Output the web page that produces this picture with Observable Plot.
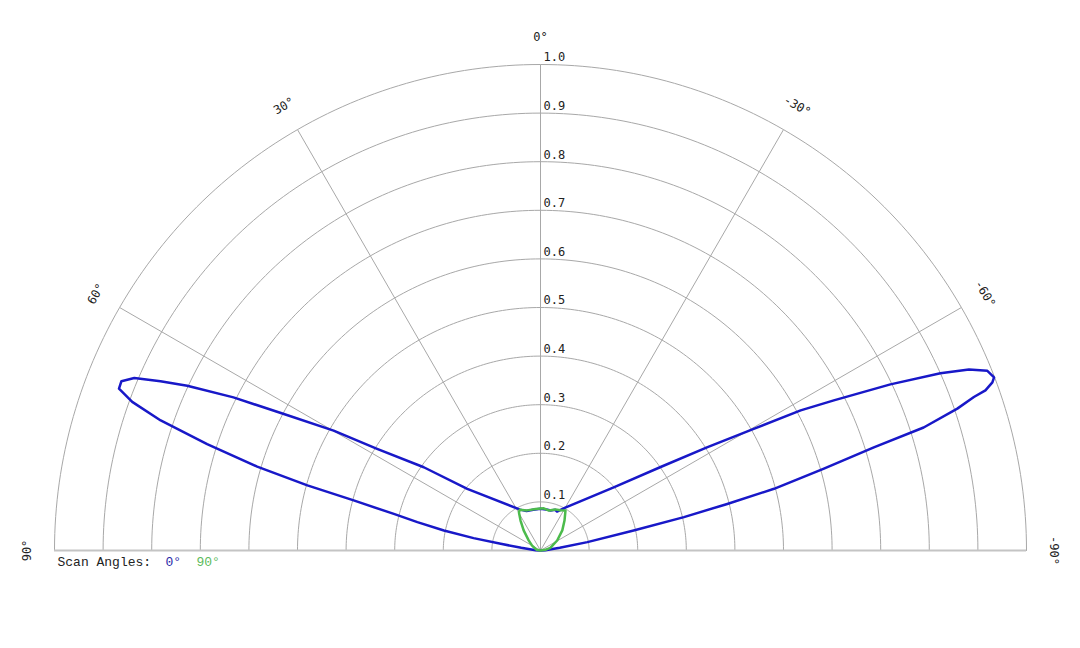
<!DOCTYPE html>
<html><head><meta charset="utf-8">
<script src="https://cdn.jsdelivr.net/npm/d3@7"></script>
<script src="https://cdn.jsdelivr.net/npm/@observablehq/plot@0.6"></script>
<style>body{margin:0;background:#fff;}</style>
</head><body><div id="chart"></div>
<script>
// ---- data ----
const ringValues = [0.1, 0.2, 0.3, 0.4, 0.5, 0.6, 0.7, 0.8, 0.9, 1.0];
const ringLabels = ["0.1", "0.2", "0.3", "0.4", "0.5", "0.6", "0.7", "0.8", "0.9", "1.0"];
const spokeAngles = [60, 30, 0, -30, -60];
const angleTicks = [90, 60, 30, 0, -30, -60, -90];
const angleTickLabels = ["90°", "60°", "30°", "0°", "-30°", "-60°", "-90°"];
const legendTitle = "Scan Angles:";
const scanAngles = ["0°", "90°"];
const scanColors = ["#1818c8", "#4cbb4c"];
const legendColors = ["#2a2aa8", "#5cbb5c"];

// scan 0°: angle (deg, positive = left) and normalised gain
const scan0Angle = [90, 86, 82, 80.5, 79.5, 78.3, 77, 76, 75, 74.4, 73.5, 72.3, 71.1, 70, 69, 68, 67, 66, 65, 63.5, 62, 59.9, 58.1, 54.5, 49.9, 26.5, 19.5, 10, 0, -10, -14, -20, -23, -30, -49.2, -55.2, -58.2, -60.3, -61.7, -62.9, -64.6, -66.1, -67.1, -68.1, -69.1, -69.6, -70.2, -70.5, -71.2, -72.2, -72.8, -73.9, -75.2, -76, -76.9, -77.9, -79.9, -82, -86, -90];
const scan0Gain  = [0, 0.01, 0.04, 0.083, 0.14, 0.203, 0.26, 0.311, 0.398, 0.498, 0.608, 0.72, 0.826, 0.894, 0.929, 0.93, 0.908, 0.856, 0.802, 0.706, 0.598, 0.492, 0.396, 0.295, 0.197, 0.094, 0.086, 0.085, 0.086, 0.085, 0.085, 0.089, 0.087, 0.102, 0.199, 0.301, 0.403, 0.505, 0.608, 0.678, 0.797, 0.90, 0.957, 0.991, 0.999, 0.992, 0.973, 0.946, 0.906, 0.828, 0.718, 0.607, 0.497, 0.396, 0.303, 0.196, 0.098, 0.04, 0.01, 0];

// scan 90°
const scan90Angle = [90, 80, 71, 60, 49.5, 39.9, 33.7, 29.5, 27, 18.4, 6.8, -4.5, -12, -20, -26, -32, -38.7, -47.3, -59, -75, -82, -90];
const scan90Gain  = [0, 0.008, 0.011, 0.02, 0.032, 0.054, 0.074, 0.09, 0.094, 0.087, 0.086, 0.087, 0.084, 0.09, 0.092, 0.097, 0.079, 0.061, 0.04, 0.021, 0.01, 0];

// ---- helpers ----
const rad = d => d * Math.PI / 180;
const px = (a, r) => -r * Math.sin(rad(a));
const py = (a, r) => r * Math.cos(rad(a));

const series = [
  {name: scanAngles[0], angles: scan0Angle, gains: scan0Gain},
  {name: scanAngles[1], angles: scan90Angle, gains: scan90Gain}
];
const curvePts = series.flatMap(s => s.angles.map((a, i) => ({scan: s.name, a, r: s.gains[i]})));

// grid rings
const ringPts = ringValues.flatMap(r => d3.range(-90, 90.5, 1).map(a => ({r, a})));

const mono = "'DejaVu Sans Mono', monospace";
const courier = "'Courier New', 'Liberation Mono', monospace";
const legendOffsets = [111, 142];

const chart = Plot.plot({
  width: 1080,
  height: 648,
  marginLeft: 54,
  marginRight: 54,
  marginTop: 64,
  marginBottom: 98,
  x: {domain: [-1, 1], axis: null},
  y: {domain: [0, 1], axis: null},
  color: {domain: scanAngles, range: scanColors},
  style: {background: "#fff"},
  marks: [
    Plot.line(ringPts, {x: d => px(d.a, d.r), y: d => py(d.a, d.r), z: "r", stroke: "#a8a8a8", strokeWidth: 1}),
    Plot.link(spokeAngles, {x1: 0, y1: 0, x2: d => px(d, 1), y2: d => py(d, 1), stroke: "#a8a8a8", strokeWidth: 1}),
    Plot.ruleY([0], {stroke: "#c4c4c4", strokeWidth: 2}),
    Plot.text(ringValues, {x: 0, y: d => d, text: (d, i) => ringLabels[i], textAnchor: "start", dx: 3, dy: -7, fontFamily: mono, fontSize: 12, fill: "#222"}),
    Plot.text(angleTicks, {x: d => px(d, 1.056), y: d => py(d, 1.056), text: (d, i) => angleTickLabels[i], rotate: d => -d, fontFamily: mono, fontSize: 12, fill: "#222"}),
    Plot.line(curvePts, {x: d => px(d.a, d.r), y: d => py(d.a, d.r), z: "scan", stroke: "scan", strokeWidth: 2.5, strokeLinejoin: "round"}),
    Plot.text([legendTitle], {x: -1, y: 0, text: d => d, textAnchor: "start", dx: 3, dy: 11, fontFamily: courier, fontSize: 13, fill: "#222"}),
    ...scanAngles.map((s, i) => Plot.text([s], {x: -1, y: 0, text: d => d, fill: legendColors[i], textAnchor: "start", dx: legendOffsets[i], dy: 11, fontFamily: courier, fontSize: 13}))
  ]
});
document.getElementById("chart").append(chart);
</script>
</body></html>
